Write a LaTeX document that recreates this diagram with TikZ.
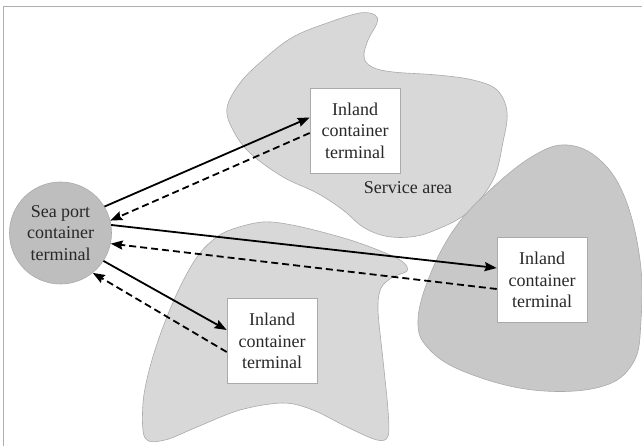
\documentclass[tikz,border=0pt]{standalone}
\usepackage{fontspec}
\setmainfont{Liberation Serif}
\usetikzlibrary{arrows.meta}
\definecolor{areafill}{RGB}{216,216,216}
\definecolor{areafilldark}{RGB}{200,200,200}
\definecolor{areaedge}{RGB}{170,170,170}
\definecolor{portfill}{RGB}{190,190,190}
\definecolor{framegray}{RGB}{175,175,175}
\definecolor{inktext}{RGB}{40,40,40}
\tikzset{
  area/.style={fill=areafill, draw=areaedge, line width=0.6pt},
  areadark/.style={fill=areafilldark, draw=areaedge, line width=0.6pt},
  terminalbox/.style={draw=areaedge, fill=white, line width=0.6pt,
    minimum width=90pt, minimum height=85pt, inner sep=0pt,
    align=center, text=inktext, font=\fontsize{18}{21.5}\selectfont},
  portnode/.style={circle, draw=areaedge, fill=portfill, line width=0.6pt,
    minimum size=102pt, inner sep=0pt, align=center, text=inktext,
    font=\fontsize{18}{21.5}\selectfont},
  outbound/.style={line width=1.8pt, -{Stealth[length=12pt,width=9pt,inset=1.5pt]}},
  inbound/.style={line width=1.8pt, dash pattern=on 7pt off 4pt,
    -{Stealth[length=12pt,width=9pt,inset=1.5pt]}},
}
\begin{document}
\begin{tikzpicture}[x=1pt, y=-1pt]
\useasboundingbox (0,0) rectangle (642,446);
\fill[white] (0,0) rectangle (642,446);

% service areas
\draw[area] plot[smooth cycle, tension=0.6] coordinates {
  (227,108) (240,83) (263,60) (293,37) (330,22) (360,13) (375,15) (377,23)
  (368,40) (364,57) (372,67) (393,72) (437,75) (473,80) (497,90) (507,112)
  (503,142) (493,180) (467,213) (433,231) (410,237) (385,236) (363,227)
  (343,210) (317,193) (283,177) (250,153) (233,130)};
\draw[area] plot[smooth cycle, tension=0.55] coordinates {
  (230,230) (263,222) (297,226) (347,239) (383,252) (403,262) (407,271)
  (393,277) (381,288) (378,310) (383,360) (388,410) (388,436) (377,440)
  (347,427) (313,410) (283,403) (240,410) (197,427) (165,440) (145,438)
  (143,403) (150,367) (163,327) (180,287) (197,257) (213,240)};
\draw[areadark] plot[smooth cycle, tension=0.65] coordinates {
  (567,145) (600,160) (625,198) (640,260) (641,320) (633,363) (600,387)
  (533,390) (465,372) (428,348) (418,320) (430,275) (455,228) (490,190)
  (533,156)};

% frame
\draw[framegray, line width=1pt] (3,446) -- (3,7) -- (642,7);

% terminals
\node[portnode] (sea) at (60.5,233) {Sea port\\container\\terminal};
\node[terminalbox] (north) at (355,130.5) {Inland\\container\\terminal};
\node[terminalbox] (east) at (542,280) {Inland\\container\\terminal};
\node[terminalbox] (south) at (272,341) {Inland\\container\\terminal};
\node[text=inktext, font=\fontsize{18}{21.5}\selectfont] (svc) at (408,188) {Service area};

% flows
\draw[outbound] (sea.31) -- ([yshift=13pt]north.west);
\draw[inbound] ([yshift=-2.5pt]north.west) -- (sea.14);
\draw[outbound] (sea.9) -- ([yshift=12pt]east.west);
\draw[inbound] ([yshift=-9pt]east.west) -- (sea.-12);
\draw[outbound] (sea.-33) -- ([yshift=11pt]south.west);
\draw[inbound] ([yshift=-11pt]south.west) -- (sea.-51);
\end{tikzpicture}
\end{document}
